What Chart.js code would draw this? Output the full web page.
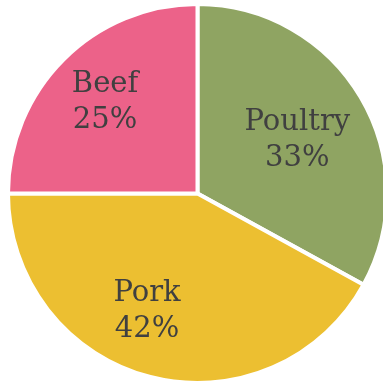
<!DOCTYPE html>
<html>
  <head>
    <meta charset="utf-8">
    <title>meat share</title>
    <script src="https://cdn.jsdelivr.net/npm/chart.js@4.4.0/dist/chart.umd.min.js"></script>
    <style>
      html, body {
        margin: 0;
        padding: 0;
        background: #ffffff;
        overflow: hidden;
      }
      #wrap {
        position: relative;
        width: 383px;
        height: 383px;
        overflow: hidden;
      }
      #pie {
        position: absolute;
        left: 0;
        top: 0;
      }
    </style>
  </head>
  <body>
    <div id="wrap">
      <canvas id="pie" width="395" height="387"></canvas>
    </div>
  <script>
    const categories = ['Poultry', 'Pork', 'Beef'];
    const shares = [33, 42, 25];
    const sliceColors = ['#8FA462', '#ECBF31', '#EC6289'];

    // where each label sits inside its slice: fraction of radius, angle nudge (deg)
    const labelRadius = [0.6, 0.67, 0.69];
    const labelNudge = [2, 9, 0];

    const sliceLabels = {
      id: 'sliceLabels',
      afterDatasetsDraw(chart) {
        const ctx = chart.ctx;
        const arcs = chart.getDatasetMeta(0).data;
        ctx.save();
        ctx.font = '29px "DejaVu Serif"';
        ctx.fillStyle = '#404040';
        ctx.textAlign = 'center';
        ctx.textBaseline = 'alphabetic';
        arcs.forEach(function(arc, i) {
          const p = arc.getProps(['x', 'y', 'startAngle', 'endAngle', 'outerRadius'], true);
          const mid = (p.startAngle + p.endAngle) / 2 + labelNudge[i] * Math.PI / 180;
          const r = p.outerRadius * labelRadius[i];
          const cx = p.x + Math.cos(mid) * r;
          const cy = p.y + Math.sin(mid) * r;
          ctx.fillText(categories[i], cx, cy - 9);
          ctx.fillText(shares[i] + '%', cx, cy + 27);
        });
        ctx.restore();
      }
    };

    new Chart(document.getElementById('pie').getContext('2d'), {
      type: 'pie',
      data: {
        labels: categories,
        datasets: [{
          data: shares,
          backgroundColor: sliceColors,
          borderColor: '#ffffff',
          borderWidth: 4
        }]
      },
      options: {
        responsive: false,
        animation: false,
        layout: { padding: 2 },
        plugins: {
          legend: { display: false },
          tooltip: { enabled: false }
        }
      },
      plugins: [sliceLabels]
    });
  </script>
  </body>
</html>
